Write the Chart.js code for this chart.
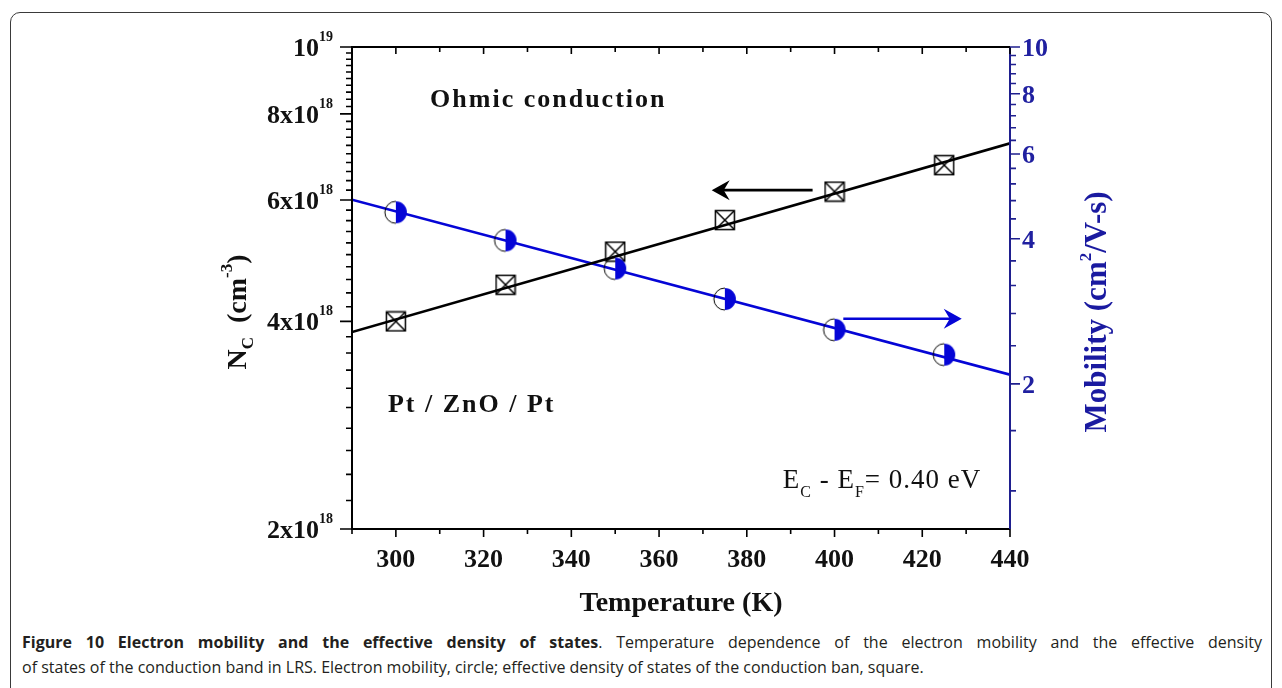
<!DOCTYPE html>
<html lang="en">
<head>
<meta charset="UTF-8">
<title>Figure 10 - Electron mobility and the effective density of states</title>
<script src="https://cdn.jsdelivr.net/npm/chart.js@4.4.1/dist/chart.umd.min.js"></script>
<style>
  html, body { margin: 0; padding: 0; background: #fff; }
  body { width: 1282px; height: 688px; position: relative; overflow: hidden; }
  .frame { position: absolute; left: 10px; top: 12px; width: 1260px; height: 720px;
           border: 1.5px solid #3a3a3a; border-radius: 10px; }
  #chart { position: absolute; left: 0; top: 0; }
  .caption { position: absolute; left: 22px; top: 630px; width: 1240px;
             font-family: "Open Sans", sans-serif; font-size: 16px; line-height: 25px; color: #231f20; }
  .caption .l1 { text-align: justify; text-align-last: justify; white-space: nowrap; }
  .caption .l2 { white-space: nowrap; }
</style>
</head>
<body>
<div class="frame"></div>
<canvas id="chart" width="1282" height="628"></canvas>
<div class="caption">
  <div class="l1"><b>Figure 10 Electron mobility and the effective density of states</b>. Temperature dependence of the electron mobility and the effective density</div>
  <div class="l2">of states of the conduction band in LRS. Electron mobility, circle; effective density of states of the conduction ban, square.</div>
</div>

<script>
const temperature = [300, 325, 350, 375, 400, 425];
const densityNc = [4.0e18, 4.52e18, 5.05e18, 5.61e18, 6.17e18, 6.74e18];
const mobility = [4.54, 3.97, 3.47, 3.00, 2.59, 2.30];

// fitted straight lines across the whole plot
const fitTemperature = [290, 440];
const densityFit = [3.86e18, 7.25e18];
const mobilityFit = [4.82, 2.09];

// tick labels
const xTickLabels = [300, 320, 340, 360, 380, 400, 420, 440];
const leftTickLabels = [2e18, 4e18, 6e18, 8e18, 1e19];
const rightTickLabels = [2, 4, 6, 8, 10];

const serif = '"Liberation Serif", "Times New Roman", serif';
const navy = '#1f1f8f';
const blue = '#0505d6';

// minor tick positions
const xMinor = [];
for (let t = 290; t <= 440; t += 10) xMinor.push(t);
const leftMinor = [];
for (let k = 11; k < 50; k++) leftMinor.push(k * 0.2e18);
const rightMinor = [];
for (let k = 3; k < 25; k++) rightMinor.push(k * 0.4);

function makeSquare() {
    const c = document.createElement('canvas');
    c.width = 22; c.height = 22;
    const g = c.getContext('2d');
    g.strokeStyle = '#000';
    g.lineWidth = 1.5;
    g.strokeRect(1.5, 1.5, 19, 19);
    g.beginPath();
    g.moveTo(1.5, 1.5); g.lineTo(20.5, 20.5);
    g.moveTo(20.5, 1.5); g.lineTo(1.5, 20.5);
    g.stroke();
    return c;
}

function makeHalfCircle() {
    const c = document.createElement('canvas');
    c.width = 26; c.height = 26;
    const g = c.getContext('2d');
    g.fillStyle = blue;
    g.beginPath();
    g.arc(13, 13, 11, -Math.PI / 2, Math.PI / 2);
    g.closePath();
    g.fill();
    g.strokeStyle = '#000';
    g.lineWidth = 1;
    g.beginPath();
    g.arc(13, 13, 11, Math.PI / 2, Math.PI * 1.5);
    g.stroke();
    return c;
}

function richWidth(ctx, parts) {
    let w = 0;
    for (const p of parts) { ctx.font = p.font; w += ctx.measureText(p.text).width; }
    return w;
}

function drawRich(ctx, parts, x, y, align) {
    const w = richWidth(ctx, parts);
    let cx = align === 'right' ? x - w : align === 'center' ? x - w / 2 : x;
    ctx.textAlign = 'left';
    ctx.textBaseline = 'alphabetic';
    for (const p of parts) {
        ctx.font = p.font;
        ctx.fillText(p.text, cx, y + (p.dy || 0));
        cx += ctx.measureText(p.text).width;
    }
}

function arrow(ctx, x1, x2, y, color) {
    const dir = x2 > x1 ? 1 : -1;
    ctx.strokeStyle = color;
    ctx.fillStyle = color;
    ctx.lineWidth = 2.6;
    ctx.beginPath();
    ctx.moveTo(x1, y);
    ctx.lineTo(x2 - dir * 10, y);
    ctx.stroke();
    ctx.beginPath();
    ctx.moveTo(x2, y);
    ctx.lineTo(x2 - dir * 18, y - 10);
    ctx.lineTo(x2 - dir * 12, y);
    ctx.lineTo(x2 - dir * 18, y + 10);
    ctx.closePath();
    ctx.fill();
}

const axesPlugin = {
    id: 'axesPlugin',
    afterDraw(chart) {
        const ctx = chart.ctx;
        const a = chart.chartArea;
        const sx = chart.scales.x, sy = chart.scales.y, sy2 = chart.scales.y2;
        const tickFont = 'bold 26px ' + serif;
        ctx.save();

        // frame
        ctx.lineWidth = 2;
        ctx.strokeStyle = '#000';
        ctx.beginPath();
        ctx.moveTo(a.right, a.top); ctx.lineTo(a.left, a.top);
        ctx.lineTo(a.left, a.bottom); ctx.lineTo(a.right, a.bottom);
        ctx.stroke();
        ctx.strokeStyle = navy;
        ctx.beginPath();
        ctx.moveTo(a.right, a.top); ctx.lineTo(a.right, a.bottom);
        ctx.stroke();

        // x ticks: outward at bottom, inward at top
        ctx.strokeStyle = '#000';
        ctx.lineWidth = 1.6;
        ctx.beginPath();
        for (const t of xMinor) {
            const px = sx.getPixelForValue(t);
            const major = t % 20 === 0;
            ctx.moveTo(px, a.bottom); ctx.lineTo(px, a.bottom + (major ? 8 : 5));
            ctx.moveTo(px, a.top); ctx.lineTo(px, a.top + (major ? 7 : 5));
        }
        // left ticks
        for (const v of leftMinor) {
            const py = sy.getPixelForValue(v);
            ctx.moveTo(a.left, py); ctx.lineTo(a.left - 6, py);
        }
        for (const v of leftTickLabels) {
            const py = sy.getPixelForValue(v);
            ctx.moveTo(a.left, py); ctx.lineTo(a.left - 12, py);
        }
        ctx.stroke();

        // right ticks
        ctx.strokeStyle = navy;
        ctx.beginPath();
        for (const v of rightMinor) {
            const py = sy2.getPixelForValue(v);
            const major = rightTickLabels.some(r => Math.abs(r - v) < 1e-6);
            ctx.moveTo(a.right, py); ctx.lineTo(a.right + (major ? 10 : 6), py);
        }
        ctx.moveTo(a.right, a.top); ctx.lineTo(a.right + 10, a.top);
        ctx.stroke();

        // x labels
        ctx.fillStyle = '#111';
        ctx.font = tickFont;
        ctx.textAlign = 'center';
        ctx.textBaseline = 'alphabetic';
        for (const t of xTickLabels) ctx.fillText(String(t), sx.getPixelForValue(t), a.bottom + 38);

        // left labels with superscript exponent
        const supFont = 'bold 14px ' + serif;
        for (const v of leftTickLabels) {
            const py = sy.getPixelForValue(v) + 9;
            const parts = v >= 1e19
                ? [{ text: '10', font: tickFont }, { text: '19', font: supFont, dy: -15 }]
                : [{ text: (v / 1e18) + 'x10', font: tickFont }, { text: '18', font: supFont, dy: -15 }];
            drawRich(ctx, parts, a.left - 19, py, 'right');
        }

        // right labels
        ctx.fillStyle = '#2020a0';
        ctx.font = tickFont;
        ctx.textAlign = 'left';
        for (const v of rightTickLabels) ctx.fillText(String(v), a.right + 12, sy2.getPixelForValue(v) + 9);

        // axis titles
        const titleFont = 'bold 28px ' + serif;
        const subFont = 'bold 17px ' + serif;
        ctx.fillStyle = '#111';
        drawRich(ctx, [{ text: 'Temperature (K)', font: titleFont }], (a.left + a.right) / 2, a.bottom + 82, 'center');

        ctx.save();
        ctx.translate(a.left - 106, (a.top + a.bottom) / 2 + 24);
        ctx.rotate(-Math.PI / 2);
        drawRich(ctx, [
            { text: 'N', font: titleFont },
            { text: 'C', font: subFont, dy: 7 },
            { text: '  (cm', font: titleFont },
            { text: '-3', font: subFont, dy: -14 },
            { text: ')', font: titleFont }
        ], 0, 0, 'center');
        ctx.restore();

        ctx.save();
        ctx.fillStyle = '#1a1aa0';
        ctx.translate(a.right + 96, (a.top + a.bottom) / 2 + 24);
        ctx.rotate(-Math.PI / 2);
        drawRich(ctx, [
            { text: 'Mobility (cm', font: 'bold 31px ' + serif },
            { text: '2', font: subFont, dy: -15 },
            { text: '/V-s)', font: 'bold 31px ' + serif }
        ], 0, 0, 'center');
        ctx.restore();

        // in-plot annotations (placed in data units)
        ctx.fillStyle = '#111';
        ctx.letterSpacing = '2px';
        drawRich(ctx, [{ text: 'Ohmic conduction', font: 'bold 26px ' + serif }],
            sx.getPixelForValue(307.8), sy.getPixelForValue(8.18e18), 'left');
        drawRich(ctx, [{ text: 'Pt / ZnO / Pt', font: 'bold 26px ' + serif }],
            sx.getPixelForValue(298.2), sy.getPixelForValue(2.96e18), 'left');
        ctx.letterSpacing = '1px';
        const eFont = '27px ' + serif, eSub = '16px ' + serif;
        drawRich(ctx, [
            { text: 'E', font: eFont },
            { text: 'C', font: eSub, dy: 9 },
            { text: ' - E', font: eFont },
            { text: 'F', font: eSub, dy: 9 },
            { text: '= 0.40 eV', font: eFont }
        ], sx.getPixelForValue(388.2), sy.getPixelForValue(2.29e18), 'left');
        ctx.letterSpacing = '0px';

        // direction arrows
        arrow(ctx, sx.getPixelForValue(395), sx.getPixelForValue(372), sy.getPixelForValue(6.2e18), '#000');
        arrow(ctx, sx.getPixelForValue(402), sx.getPixelForValue(429), sy2.getPixelForValue(2.73), blue);

        ctx.restore();
    }
};

const toPoints = (xs, ys) => xs.map((x, i) => ({ x: x, y: ys[i] }));

new Chart(document.getElementById('chart'), {
    type: 'scatter',
    data: {
        datasets: [
            {
                label: 'Nc fit',
                data: toPoints(fitTemperature, densityFit),
                yAxisID: 'y',
                showLine: true,
                borderColor: '#000',
                borderWidth: 2.6,
                pointRadius: 0,
                order: 3
            },
            {
                label: 'Mobility fit',
                data: toPoints(fitTemperature, mobilityFit),
                yAxisID: 'y2',
                showLine: true,
                borderColor: blue,
                borderWidth: 2.6,
                pointRadius: 0,
                order: 3
            },
            {
                label: 'Nc',
                data: toPoints(temperature, densityNc),
                yAxisID: 'y',
                pointStyle: makeSquare(),
                pointRadius: 11,
                order: 2
            },
            {
                label: 'Mobility',
                data: toPoints(temperature, mobility),
                yAxisID: 'y2',
                pointStyle: makeHalfCircle(),
                pointRadius: 12,
                order: 1
            }
        ]
    },
    options: {
        responsive: false,
        animation: false,
        events: [],
        layout: { padding: { top: 47, left: 0, right: 0, bottom: 0 } },
        plugins: { legend: { display: false }, tooltip: { enabled: false } },
        scales: {
            x: {
                type: 'linear', position: 'bottom', min: 290, max: 440,
                ticks: { display: false }, grid: { display: false }, border: { display: false },
                afterFit: s => { s.height = 628 - 529; }
            },
            y: {
                type: 'logarithmic', position: 'left', min: 2e18, max: 1e19,
                ticks: { display: false }, grid: { display: false }, border: { display: false },
                afterFit: s => { s.width = 352; }
            },
            y2: {
                type: 'logarithmic', position: 'right', min: 1, max: 10,
                ticks: { display: false }, grid: { display: false }, border: { display: false },
                afterFit: s => { s.width = 1282 - 1010; }
            }
        }
    },
    plugins: [axesPlugin]
});
</script>
</body>
</html>
